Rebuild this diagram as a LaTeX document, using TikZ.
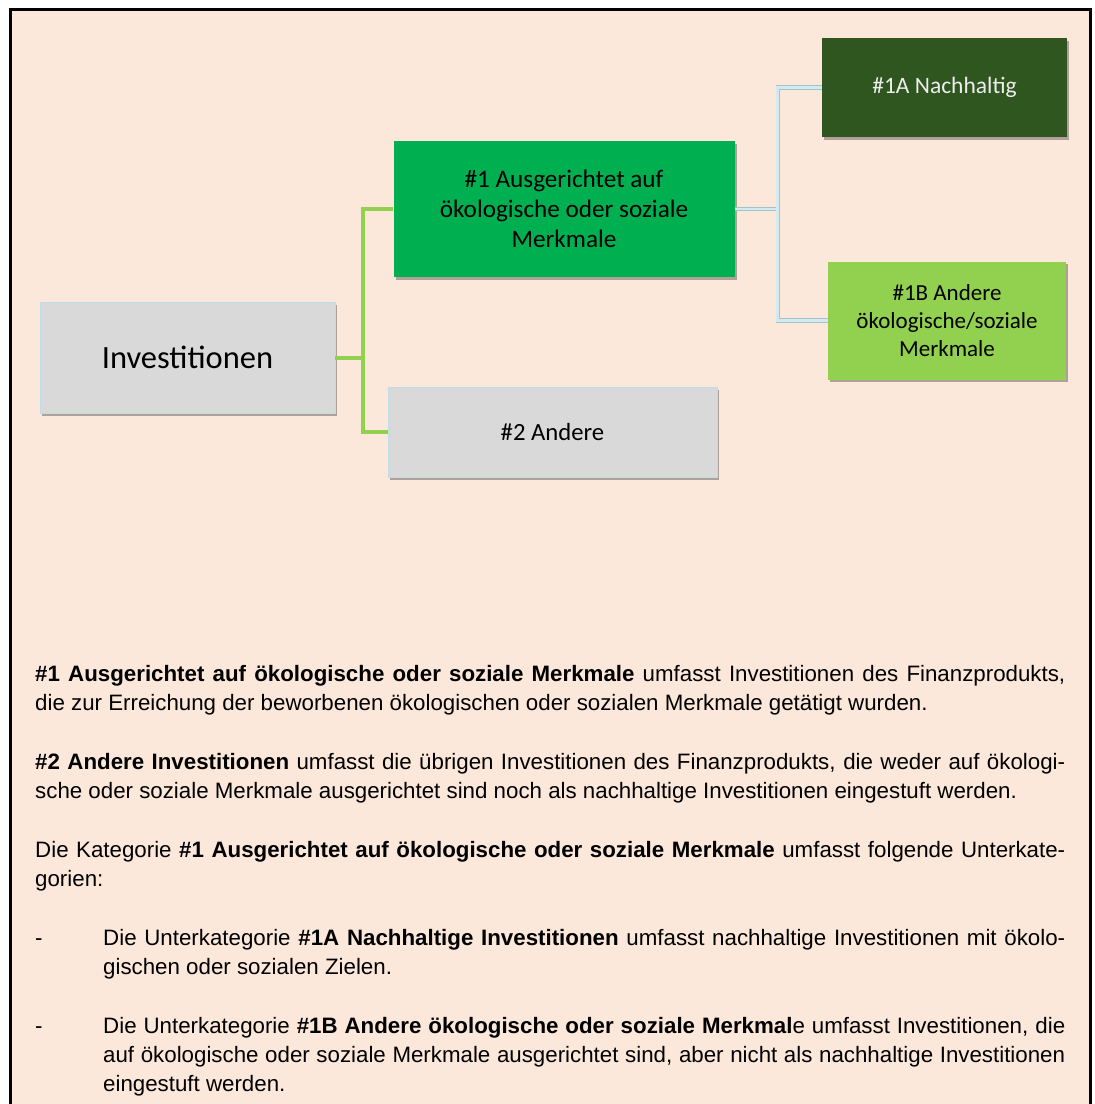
\documentclass[tikz,border=0pt]{standalone}
\usepackage{fontspec}
\setmainfont{Liberation Sans}
\newfontfamily\carlito{Carlito}
\usetikzlibrary{shadows}
\definecolor{peach}{HTML}{FCE8DA}
\definecolor{boxgray}{HTML}{D9D9D9}
\definecolor{boxedge}{HTML}{BFDDE4}
\definecolor{midgreen}{HTML}{00B050}
\definecolor{darkgreen}{HTML}{30561F}
\definecolor{lightgreen}{HTML}{92D050}
\definecolor{linegreen}{HTML}{92D050}
\definecolor{lineblue}{HTML}{D3EAF0}
\definecolor{lineblueedge}{HTML}{A3C2CA}
\tikzset{
  box/.style={rectangle, inner sep=0pt, align=center,
    drop shadow={shadow xshift=2pt, shadow yshift=-2.5pt, opacity=0.3, fill=black}},
  graybox/.style={box, fill=boxgray, draw=boxedge, line width=0.8pt},
  greenconn/.style={draw=linegreen, line width=4pt},
  blueconn/.style={draw=lineblueedge, line width=0.8pt, double=lineblue, double distance=2.6pt},
  txt/.style={anchor=base west, inner sep=0pt, font=\fontsize{22.3}{29.35}\selectfont},
}
\begin{document}
\begin{tikzpicture}[x=1pt,y=-1pt]
\useasboundingbox (0,0) rectangle (1095,1104);
\fill[peach] (10,9) rectangle (1090,1104);
\draw[line width=3pt] (10,1104) -- (10,9) -- (1090,9) -- (1090,1104);

% boxes
\node[graybox, minimum width=295pt, minimum height=111pt,
      font=\carlito\fontsize{32.5}{38}\selectfont] (inv) at (187.5,357.5) {Investitionen};
\node[box, fill=midgreen, minimum width=341pt, minimum height=136pt,
      font=\carlito\fontsize{25.2}{30}\selectfont] (a1) at (564,209)
      {\#1 Ausgerichtet auf\\ökologische oder soziale\\Merkmale};
\node[graybox, minimum width=329pt, minimum height=90pt,
      font=\carlito\fontsize{24.7}{29}\selectfont] (a2) at (552.5,432) {\#2 Andere};
\node[box, fill=darkgreen, minimum width=245pt, minimum height=99pt, text=white!93!black,
      font=\carlito\fontsize{23.5}{28}\selectfont] (a1A) at (944.5,87.5) {\raisebox{-3pt}{\#1A Nachhaltig}};
\node[box, fill=lightgreen, minimum width=238pt, minimum height=118pt,
      font=\carlito\fontsize{23}{28}\selectfont] (a1B) at (947,320.5)
      {\#1B Andere\\ökologische/soziale\\Merkmale};

% connectors
\coordinate (gj) at ([xshift=28pt]inv.east);
\coordinate (bj) at ([xshift=43pt]a1.east);
\draw[greenconn] (inv.east) -- (gj);
\draw[greenconn] (gj) |- (a1.west);
\draw[greenconn] (gj) |- (a2.west);
\draw[blueconn] (a1.east) -- (bj);
\draw[blueconn] (bj) |- (a1A.west);
\draw[blueconn] (bj) |- (a1B.west);

% body text
\node[txt] (p1a) at (35,681.0) {\makebox[1030pt][s]{\textbf{\#1 Ausgerichtet auf ökologische oder soziale Merkmale} umfasst Investitionen des Finanzprodukts,}};
\node[txt] (p1b) at (35,710.4) {die zur Erreichung der beworbenen ökologischen oder sozialen Merkmale getätigt wurden.};
\node[txt] (p2a) at (35,769.0) {\makebox[1030pt][s]{\textbf{\#2 Andere Investitionen} umfasst die übrigen Investitionen des Finanzprodukts, die weder auf ökologi-}};
\node[txt] (p2b) at (35,798.4) {sche oder soziale Merkmale ausgerichtet sind noch als nachhaltige Investitionen eingestuft werden.};
\node[txt] (p3a) at (35,857.1) {\makebox[1030pt][s]{Die Kategorie \textbf{\#1 Ausgerichtet auf ökologische oder soziale Merkmale} umfasst folgende Unterkate-}};
\node[txt] (p3b) at (35,886.5) {gorien:};
\node[txt] (d1) at (35,945.2) {-};
\node[txt] (b1a) at (103,945.2) {\makebox[962pt][s]{Die Unterkategorie \textbf{\#1A Nachhaltige Investitionen} umfasst nachhaltige Investitionen mit ökolo-}};
\node[txt] (b1b) at (103,974.5) {gischen oder sozialen Zielen.};
\node[txt] (d2) at (35,1033.2) {-};
\node[txt] (b2a) at (103,1033.2) {\makebox[962pt][s]{Die Unterkategorie \textbf{\#1B Andere ökologische oder soziale Merkmal}e umfasst Investitionen, die}};
\node[txt] (b2b) at (103,1062.6) {\makebox[962pt][s]{auf ökologische oder soziale Merkmale ausgerichtet sind, aber nicht als nachhaltige Investitionen}};
\node[txt] (b2c) at (103,1091.9) {eingestuft werden.};
\end{tikzpicture}
\end{document}
